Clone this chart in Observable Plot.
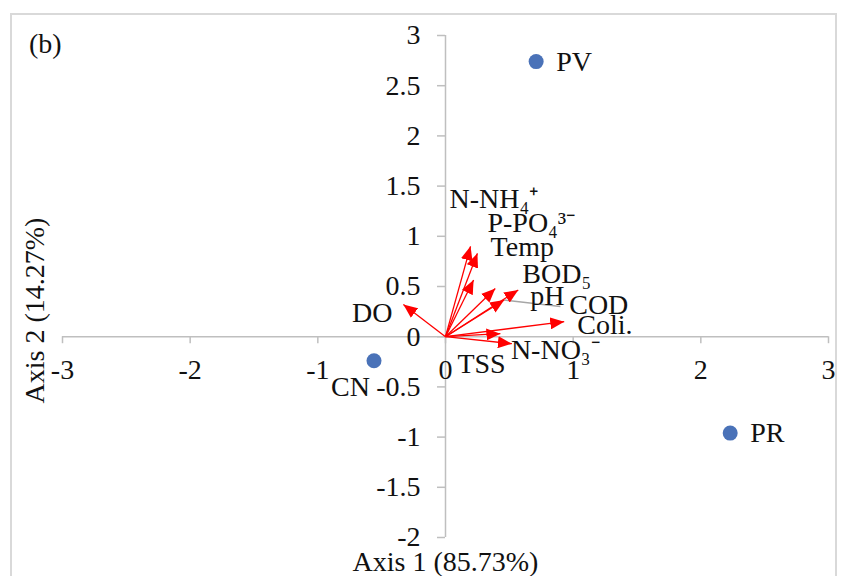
<!DOCTYPE html>
<html><head><meta charset="utf-8">
<script src="https://cdn.jsdelivr.net/npm/d3@7"></script>
<script src="https://cdn.jsdelivr.net/npm/@observablehq/plot@0.6"></script>
<style>
body{margin:0;background:#fff;}
#wrap{position:relative;width:841px;height:576px;overflow:hidden;background:#fff;}
#chart{position:absolute;left:0;top:0;}
#chart svg text{font-family:"Liberation Serif","Times New Roman",serif !important;}
#border{position:absolute;left:10px;top:13px;width:823px;height:620px;border:2px solid #d9d9d9;z-index:2;pointer-events:none;}
#tag{position:absolute;left:29px;top:28px;font-size:28px;font-family:"Liberation Serif",serif;color:#111;z-index:3;}
</style></head><body>
<div id="wrap"><div id="chart"></div><div id="border"></div><div id="tag">(b)</div></div>
<script>
// Site scores
const sites = ["PV", "PR", "CN"];
const siteX = [0.71, 2.23, -0.56];
const siteY = [2.74, -0.96, -0.24];
// Variable loadings
const variables = ["DO", "N-NH₄⁺", "P-PO₄³⁻", "Temp", "pH", "BOD₅", "COD", "Coli.", "N-NO₃⁻", "TSS"];
const loadX = [-0.33, 0.196, 0.25, 0.22, 0.39, 0.57, 0.46, 0.93, 0.52, 0.43];
const loadY = [0.32, 0.90, 0.83, 0.565, 0.48, 0.465, 0.365, 0.15, -0.07, 0.03];
// COD label leader end
const codLeaderX = [0.90];
const codLeaderY = [0.30];
// Axis ticks
const xTicks = [-3, -2, -1, 0, 1, 2, 3];
const yTicks = [-2, -1.5, -1, -0.5, 0, 0.5, 1, 1.5, 2, 2.5, 3];
const xTitle = "Axis 1 (85.73%)";
const yTitle = "Axis 2 (14.27%)";

const siteData = sites.map((s, i) => ({name: s, x: siteX[i], y: siteY[i]}));
const loadData = variables.map((v, i) => ({name: v, x: loadX[i], y: loadY[i]}));

// label placement (pixels, relative to arrow tips)
const labelOffset = {
  "DO": [-11, 8, "end"],
  "N-NH₄⁺": [-21, -47, "start"],
  "P-PO₄³⁻": [10, -30, "start"],
  "Temp": [17, -33, "start"],
  "pH": [35, 8, "start"],
  "BOD₅": [4, -16, "start"],
  "COD": [65, 5, "start"],
  "Coli.": [13, 3, "start"],
  "N-NO₃⁻": [-1, 6, "start"],
  "TSS": [-43, 30, "start"]
};

const font = "'Liberation Serif', 'Times New Roman', serif";
const fs = 28;
const axisColor = "#bfbfbf";
const ink = "#111";

const labelMarks = loadData.map(d => Plot.text([d], {
  x: "x", y: "y", text: "name",
  dx: labelOffset[d.name][0], dy: labelOffset[d.name][1],
  textAnchor: labelOffset[d.name][2],
  fontSize: fs, fontFamily: font, fill: ink
}));

const plot = Plot.plot({
  width: 841, height: 576,
  marginLeft: 62, marginRight: 13, marginTop: 35, marginBottom: 39,
  style: {fontFamily: font, background: "transparent", overflow: "visible"},
  x: {domain: [-3, 3], axis: null},
  y: {domain: [-2, 3], axis: null},
  marks: [
    // axes through origin
    Plot.ruleY([0], {x1: -3, x2: 3, stroke: axisColor, strokeWidth: 1.5}),
    Plot.ruleX([0], {y1: -2, y2: 3, stroke: axisColor, strokeWidth: 1.5}),
    Plot.ruleX(xTicks, {x: d => d, y1: 0, y2: 0, insetBottom: -7, stroke: axisColor, strokeWidth: 1.5}),
    Plot.ruleY(yTicks, {y: d => d, x1: 0, x2: 0, insetLeft: -8, stroke: axisColor, strokeWidth: 1.5}),
    Plot.text(xTicks, {x: d => d, y: 0, text: d => String(d), dy: 33, fontSize: fs, fontFamily: font, fill: ink}),
    Plot.text(yTicks, {x: 0, y: d => d, text: d => String(d), dx: -25, textAnchor: "end", fontSize: fs, fontFamily: font, fill: ink}),
    // leader line for COD
    Plot.link([0], {x1: () => loadX[6], y1: () => loadY[6], x2: () => codLeaderX[0], y2: () => codLeaderY[0], stroke: "#a6a6a6", strokeWidth: 1.5}),
    // loading arrows
    Plot.link(loadData, {x1: 0, y1: 0, x2: "x", y2: "y", stroke: "#ff0000", strokeWidth: 1.3, markerEnd: "arrow"}),
    ...labelMarks,
    // site points
    Plot.dot(siteData, {x: "x", y: "y", r: 7.5, fill: "#4a72b8"}),
    Plot.text(siteData.filter(d => d.name !== "CN"), {x: "x", y: "y", text: "name", dx: 20, textAnchor: "start", fontSize: fs, fontFamily: font, fill: ink}),
    Plot.text(siteData.filter(d => d.name === "CN"), {x: "x", y: "y", text: "name", dx: -4, dy: 26, textAnchor: "end", fontSize: fs, fontFamily: font, fill: ink}),
    // axis titles
    Plot.text([xTitle], {frameAnchor: "bottom", text: d => d, dy: 33, fontSize: fs, fontFamily: font, fill: ink}),
    Plot.text([yTitle], {frameAnchor: "left", text: d => d, dx: -27, dy: 24, rotate: -90, textAnchor: "middle", fontSize: fs, fontFamily: font, fill: ink})
  ]
});

// filled triangular arrowheads
plot.querySelectorAll("marker").forEach(m => {
  m.setAttribute("viewBox", "-14 -6 14 12");
  m.setAttribute("markerUnits", "userSpaceOnUse");
  m.setAttribute("markerWidth", "14");
  m.setAttribute("markerHeight", "12");
  m.setAttribute("fill", "#ff0000");
  m.setAttribute("stroke", "none");
  m.innerHTML = "";
  const p = document.createElementNS("http://www.w3.org/2000/svg", "path");
  p.setAttribute("d", "M-14,-6L0,0L-14,6Z");
  m.appendChild(p);
});

document.getElementById("chart").appendChild(plot);
</script>
</body></html>
